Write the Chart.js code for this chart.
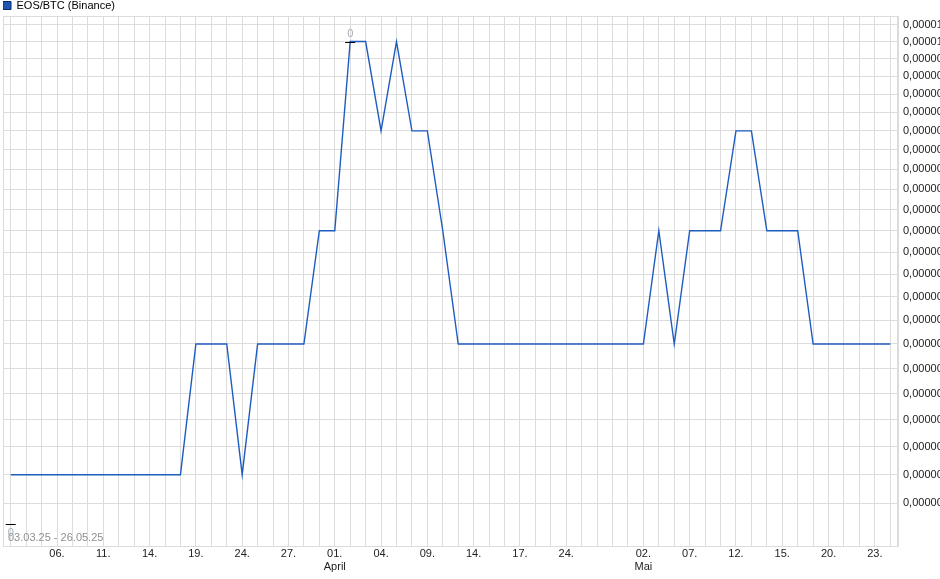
<!DOCTYPE html>
<html>
<head>
<meta charset="utf-8">
<script src="https://cdn.jsdelivr.net/npm/chart.js@4.4.1/dist/chart.umd.min.js"></script>
<style>
html, body { margin: 0; padding: 0; background: #fff; }
#wrap { width: 940px; height: 579px; }
</style>
</head>
<body>
<div id="wrap"><canvas id="eosCanvas"></canvas></div>
<script>
// Handelstage 03.03.25 - 26.05.25
const dates = [
    "03.03.25","04.03.25","05.03.25","06.03.25","07.03.25","10.03.25","11.03.25","12.03.25","13.03.25","14.03.25",
    "17.03.25","18.03.25","19.03.25","20.03.25","21.03.25","24.03.25","25.03.25","26.03.25","27.03.25","28.03.25","31.03.25",
    "01.04.25","02.04.25","03.04.25","04.04.25","07.04.25","08.04.25","09.04.25","10.04.25","11.04.25","14.04.25",
    "15.04.25","16.04.25","17.04.25","22.04.25","23.04.25","24.04.25","25.04.25","28.04.25","29.04.25","30.04.25",
    "02.05.25","05.05.25","06.05.25","07.05.25","08.05.25","09.05.25","12.05.25","13.05.25","14.05.25","15.05.25",
    "16.05.25","19.05.25","20.05.25","21.05.25","22.05.25","23.05.25","26.05.25"
];

// EOS/BTC Schlusskurse
const closes = [
    3.0e-6,3.0e-6,3.0e-6,3.0e-6,3.0e-6,3.0e-6,3.0e-6,3.0e-6,3.0e-6,3.0e-6,
    3.0e-6,3.0e-6,3.5e-6,3.5e-6,3.5e-6,3.0e-6,3.5e-6,3.5e-6,3.5e-6,3.5e-6,4.0e-6,
    4.0e-6,5.0e-6,5.0e-6,4.5e-6,5.0e-6,4.5e-6,4.5e-6,4.0e-6,3.5e-6,3.5e-6,
    3.5e-6,3.5e-6,3.5e-6,3.5e-6,3.5e-6,3.5e-6,3.5e-6,3.5e-6,3.5e-6,3.5e-6,
    3.5e-6,4.0e-6,3.5e-6,4.0e-6,4.0e-6,4.0e-6,4.5e-6,4.5e-6,4.0e-6,4.0e-6,
    4.0e-6,3.5e-6,3.5e-6,3.5e-6,3.5e-6,3.5e-6,3.5e-6
];

// beschriftete Tage auf der x-Achse + Monatsnamen
const xTickIdx = [3,6,9,12,15,18,21,24,27,30,33,36,41,44,47,50,53,56];
const monthIdx = [21, 41];
const monthText = ["April", "Mai"];

// y-Achse (log), Gitter alle 0,0000001
const yTickValues = [
    5.1e-6,5.0e-6,4.9e-6,4.8e-6,4.7e-6,4.6e-6,4.5e-6,4.4e-6,4.3e-6,4.2e-6,4.1e-6,4.0e-6,
    3.9e-6,3.8e-6,3.7e-6,3.6e-6,3.5e-6,3.4e-6,3.3e-6,3.2e-6,3.1e-6,3.0e-6,2.9e-6
];
const yTickLabels = [
    "0,00001","0,00001","0,00000","0,00000","0,00000","0,00000","0,00000","0,00000","0,00000","0,00000","0,00000","0,00000",
    "0,00000","0,00000","0,00000","0,00000","0,00000","0,00000","0,00000","0,00000","0,00000","0,00000","0,00000"
];

// Hoch/Tief Markierungen
const markIdx = [22, 0];
const markVal = [5.0e-6, 2.83e-6];
const markText = ["0", "0"];

const gridColor = "#dcdcdc";
const lineColor = "#1f5cc0";
const fontFam = "'Liberation Sans', Arial, sans-serif";

//legende: feste Höhe 16px
const legendFit = {
    id: "legendFit",
    afterInit(chart) {
        const lg = chart.legend;
        const orig = lg.fit;
        lg.fit = function () { orig.call(this); this.height = 16; };
    }
};

// Rahmen, Zeitraum und Hoch/Tief
const extras = {
    id: "extras",
    afterDraw(chart) {
        const ctx = chart.ctx;
        const a = chart.chartArea;
        const xs = chart.scales.x, ys = chart.scales.y;
        ctx.save();
        ctx.strokeStyle = gridColor;
        ctx.lineWidth = 1;
        ctx.strokeRect(Math.round(a.left) + 0.5, Math.round(a.top) + 0.5,
            Math.round(a.right) - Math.round(a.left) - 1, Math.round(a.bottom) - Math.round(a.top));

        ctx.font = "11px " + fontFam;
        ctx.fillStyle = "#909090";
        ctx.textAlign = "left";
        ctx.textBaseline = "middle";
        ctx.fillText(dates[0] + " - " + dates[dates.length - 1], a.left + 5, a.bottom - 8);

        for (let k = 0; k < markIdx.length; k++) {
            const x = xs.getPixelForValue(markIdx[k]);
            const y = Math.round(ys.getPixelForValue(markVal[k])) + 0.5;
            ctx.strokeStyle = "#000";
            ctx.beginPath();
            ctx.moveTo(x - 5, y);
            ctx.lineTo(x + 5, y);
            ctx.stroke();
            ctx.fillStyle = "#a3adb8";
            ctx.textAlign = "center";
            const above = k === 0;
            ctx.fillText(markText[k], x, above ? y - 9 : y + 8);
        }
        ctx.restore();
    }
};

const eosCanvas = document.getElementById("eosCanvas");
const eosChart = new Chart(eosCanvas, {
    type: "line",
    data: {
        labels: dates,
        datasets: [{
            label: "EOS/BTC (Binance)",
            data: closes,
            borderColor: lineColor,
            backgroundColor: lineColor,
            borderWidth: 1.4,
            pointRadius: 0,
            tension: 0,
            fill: false
        }]
    },
    options: {
        responsive: true,
        maintainAspectRatio: false,
        animation: false,
        devicePixelRatio: 1,
        layout: { padding: { left: 3, right: 0, top: 0, bottom: 0 } },
        plugins: {
            legend: {
                position: "top",
                align: "start",
                labels: {
                    boxWidth: 8,
                    boxHeight: 8,
                    padding: 0,
                    color: "#000",
                    font: { family: fontFam, size: 11 },
                    generateLabels: (chart) => [{
                        text: chart.data.datasets[0].label,
                        fillStyle: "#1f55b3",
                        strokeStyle: "#0e2a66",
                        lineWidth: 1,
                        datasetIndex: 0
                    }]
                }
            },
            tooltip: { enabled: false }
        },
        scales: {
            x: {
                type: "category",
                offset: true,
                grid: { color: gridColor, offset: false, drawTicks: false },
                border: { color: gridColor },
                ticks: {
                    autoSkip: false,
                    maxRotation: 0,
                    padding: 1,
                    color: "#222",
                    font: { family: fontFam, size: 11 },
                    callback: function (val, i) {
                        if (xTickIdx.indexOf(i) < 0) return "";
                        const day = dates[i].slice(0, 3);
                        const m = monthIdx.indexOf(i);
                        return m < 0 ? day : [day, monthText[m]];
                    }
                },
                afterFit: (s) => { s.height = 33; }
            },
            y: {
                type: "logarithmic",
                position: "right",
                min: 2.758e-6,
                max: 5.153e-6,
                grid: { color: gridColor, drawTicks: false },
                border: { color: gridColor },
                afterBuildTicks: (axis) => {
                    axis.ticks = yTickValues.map(v => ({ value: v }));
                },
                ticks: {
                    autoSkip: false,
                    padding: 5,
                    color: "#222",
                    font: { family: fontFam, size: 11 },
                    callback: (v, i) => yTickLabels[i]
                },
                afterFit: (s) => { s.width = 42; }
            }
        }
    },
    plugins: [legendFit, extras]
});
</script>
</body>
</html>
